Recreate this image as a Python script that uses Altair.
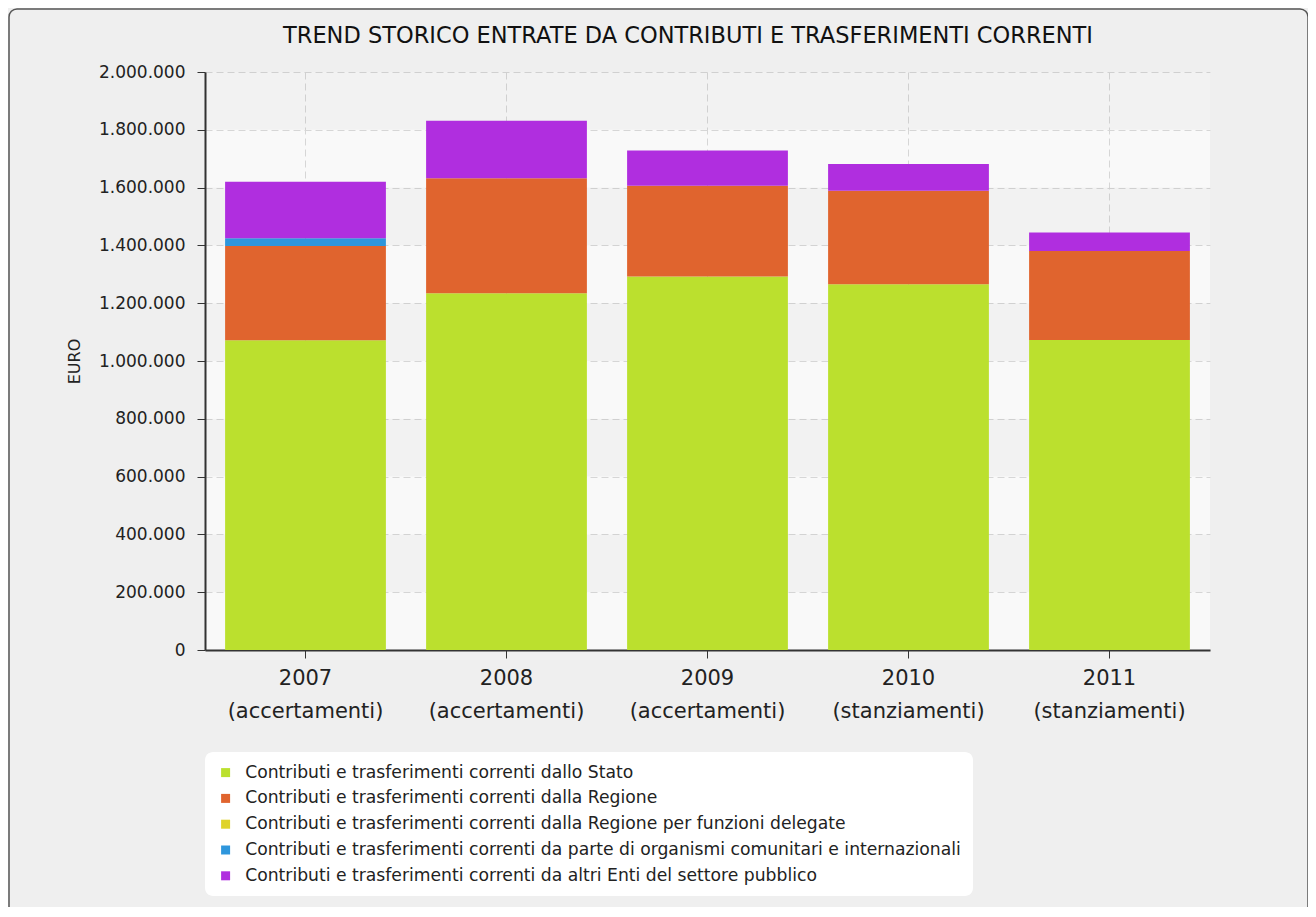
import altair as alt
import pandas as pd

title_text = "TREND STORICO ENTRATE DA CONTRIBUTI E TRASFERIMENTI CORRENTI"
categories = ["2007|(accertamenti)", "2008|(accertamenti)", "2009|(accertamenti)",
              "2010|(stanziamenti)", "2011|(stanziamenti)"]
series = [
    "Contributi e trasferimenti correnti dallo Stato",
    "Contributi e trasferimenti correnti dalla Regione",
    "Contributi e trasferimenti correnti dalla Regione per funzioni delegate",
    "Contributi e trasferimenti correnti da parte di organismi comunitari e internazionali",
    "Contributi e trasferimenti correnti da altri Enti del settore pubblico",
]
colors = ["#bbe02e", "#e0642e", "#dfd32a", "#2e96dc", "#b02edf"]

stato = [1072000, 1234000, 1292000, 1266000, 1073000]
regione = [326000, 398000, 314000, 323000, 308000]
regione_deleg = [0, 0, 0, 0, 0]
organismi = [27000, 0, 0, 0, 0]
altri = [195000, 199000, 122000, 93000, 64000]

y_ticks = [0, 200000, 400000, 600000, 800000, 1000000, 1200000, 1400000,
           1600000, 1800000, 2000000]
band_lo = [200000, 600000, 1000000, 1400000, 1800000]
band_hi = [400000, 800000, 1200000, 1600000, 2000000]

values_by_series = [stato, regione, regione_deleg, organismi, altri]
rows = []
for si, (name, vals) in enumerate(zip(series, values_by_series)):
    for cat, v in zip(categories, vals):
        rows.append({"anno": cat, "serie": name, "ordine": si, "valore": v})
df = pd.DataFrame(rows)
bands = pd.DataFrame({"lo": band_lo, "hi": band_hi})

W, H = 1005, 578
ydom = [0, 2000000]

y_axis = alt.Axis(values=y_ticks, title="EURO", titleFontSize=16,
                  titleFontWeight="normal", titleColor="#222222",
                  titlePadding=16,
                  labelExpr="replace(format(datum.value, ','), regexp(',', 'g'), '.')",
                  labelFontSize=17, labelColor="#222222", labelPadding=12,
                  tickSize=8, tickColor="#333333", domainColor="#333333",
                  domainWidth=2, grid=True, gridColor="#d6d6d6",
                  gridDash=[7, 4])

frame = alt.Chart(pd.DataFrame({"k": [0]})).mark_rect(
    fill="transparent", stroke="#555555", strokeWidth=1.5, cornerRadius=8
).encode(
    x=alt.value(-196), x2=alt.value(1103), y=alt.value(-63), y2=alt.value(842)
)

title_layer = alt.Chart(pd.DataFrame({"t": [title_text]})).mark_text(
    font="DejaVu Sans", fontSize=22.5, color="#111111", align="center",
    baseline="middle"
).encode(text="t:N", x=alt.value(483), y=alt.value(-36))

band_layer = alt.Chart(bands).mark_rect(fill="#000000", fillOpacity=0.028).encode(
    x=alt.value(0), x2=alt.value(W),
    y=alt.Y("lo:Q", scale=alt.Scale(domain=ydom, nice=False), axis=y_axis),
    y2="hi:Q",
)

bars = alt.Chart(df).mark_bar().encode(
    x=alt.X("anno:N", sort=categories,
            scale=alt.Scale(paddingInner=0.2, paddingOuter=0.1),
            axis=alt.Axis(title=None, labelAngle=0, labelFontSize=21,
                          labelExpr="split(datum.label, '|')",
                          labelLineHeight=33, labelPadding=9,
                          labelColor="#222222", tickSize=8, tickColor="#333333",
                          domainColor="#333333", domainWidth=2,
                          grid=True, gridColor="#d6d6d6", gridDash=[7, 4])),
    y=alt.Y("valore:Q", stack="zero",
            scale=alt.Scale(domain=ydom, nice=False), axis=y_axis),
    color=alt.Color("serie:N", sort=series,
                    scale=alt.Scale(domain=series, range=colors),
                    legend=alt.Legend(orient="none", legendX=0, legendY=680,
                                      title=None, fillColor="white",
                                      cornerRadius=8, padding=12,
                                      labelFont="DejaVu Sans",
                                      labelFontSize=17.2, labelColor="#222222",
                                      labelLimit=0, labelOffset=11,
                                      symbolType="square",
                                      symbolSize=81, symbolStrokeWidth=0,
                                      rowPadding=7.8)),
    order=alt.Order("ordine:Q", sort="ascending"),
)

chart = alt.layer(frame, title_layer, band_layer, bars).properties(
    width=W, height=H,
    autosize=alt.AutoSizeParams(type="none"),
    padding={"left": 197, "top": 64, "right": 98, "bottom": 257},
    background="#efefef",
).configure(font="DejaVu Sans").configure_view(stroke=None, fill="#f9f9f9")

chart.save("out.html", embed_options={"renderer": "svg", "actions": False})
